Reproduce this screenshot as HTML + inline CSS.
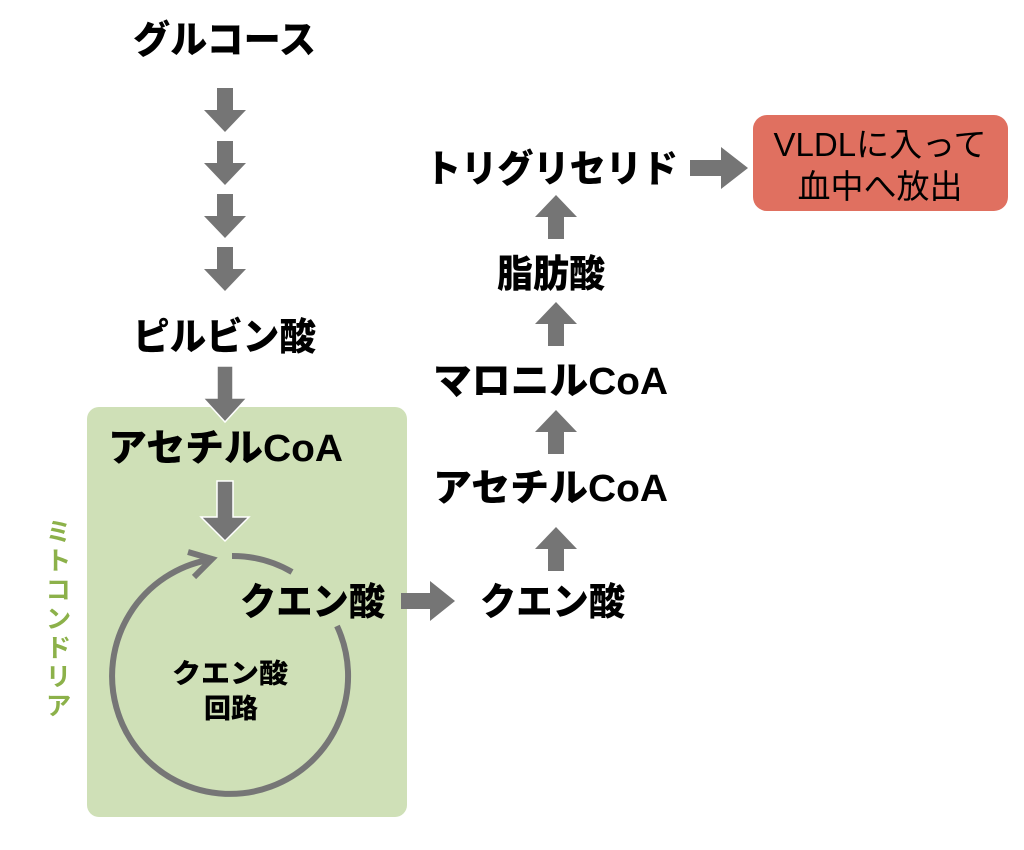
<!DOCTYPE html>
<html><head><meta charset="utf-8"><style>
body{margin:0;background:#fff}
svg text{font-family:"Liberation Sans","Noto Sans CJK JP",sans-serif;font-weight:900}
</style></head><body>
<svg width="1024" height="845" viewBox="0 0 1024 845" xmlns="http://www.w3.org/2000/svg">
<defs>
<path id="ad" d="M-8,0 H8 V22 H21 L0,44 L-21,22 H-8 Z" fill="#757575"/>
<path id="au" d="M-8,44 H8 V22 H21 L0,0 L-21,22 H-8 Z" fill="#757575"/>
</defs>
<rect x="87" y="407" width="320" height="410" rx="12" fill="#cfe0b7"/>
<text x="133" y="53" font-size="38" textLength="183" lengthAdjust="spacingAndGlyphs">グルコース</text>
<use href="#ad" x="225" y="88"/>
<use href="#ad" x="225" y="141"/>
<use href="#ad" x="225" y="194"/>
<use href="#ad" x="225" y="247"/>
<text x="133" y="350" font-size="38" textLength="183" lengthAdjust="spacingAndGlyphs">ピルビン酸</text>
<path d="M217,366 H233 V398 H247 L225,422 L203,398 H217 Z" fill="#757575" stroke="#fff" stroke-width="1.5"/>
<text x="108" y="461" font-size="38" textLength="235" lengthAdjust="spacingAndGlyphs">アセチルCoA</text>
<path d="M217,481 H233 V517 H249 L225,541 L201,517 H217 Z" fill="#757575" stroke="#fff" stroke-width="1.5"/>
<path d="M232,556 A118,118 0 0 1 292,572" fill="none" stroke="#767676" stroke-width="6"/>
<path d="M337,626 A118,118 0 1 1 208,560" fill="none" stroke="#767676" stroke-width="6"/>
<path d="M188,552 L212,559 L194,577" fill="none" stroke="#767676" stroke-width="6"/>
<text x="240" y="615" font-size="38" textLength="145" lengthAdjust="spacingAndGlyphs">クエン酸</text>
<text x="172" y="683" font-size="27" textLength="116" lengthAdjust="spacingAndGlyphs">クエン酸</text>
<text x="204" y="718" font-size="27" textLength="54" lengthAdjust="spacingAndGlyphs">回路</text>
<path d="M401,593 H430 V581 L455,601 L430,621 V609 H401 Z" fill="#757575"/>
<text x="480" y="615" font-size="38" textLength="145" lengthAdjust="spacingAndGlyphs">クエン酸</text>
<use href="#au" x="556" y="527"/>
<text x="433" y="501" font-size="38" textLength="235" lengthAdjust="spacingAndGlyphs">アセチルCoA</text>
<use href="#au" x="556" y="410"/>
<text x="433" y="394" font-size="38" textLength="235" lengthAdjust="spacingAndGlyphs">マロニルCoA</text>
<use href="#au" x="556" y="302"/>
<text x="497" y="287" font-size="38" textLength="108" lengthAdjust="spacingAndGlyphs">脂肪酸</text>
<use href="#au" x="556" y="195"/>
<text x="425" y="182" font-size="38" textLength="253" lengthAdjust="spacingAndGlyphs">トリグリセリド</text>
<path d="M690,160 H721 V147 L748,168 L721,189 V176 H690 Z" fill="#757575"/>
<rect x="753" y="115" width="255" height="96" rx="14" fill="#e07060"/>
<text x="880" y="156" font-size="33" style="font-weight:400" text-anchor="middle">VLDLに入って</text>
<text x="880" y="198" font-size="33" style="font-weight:400" text-anchor="middle">血中へ放出</text>
<text x="57" y="518" font-size="26" fill="#8cb14a" style="writing-mode:vertical-rl;font-weight:700;letter-spacing:3px">ミトコンドリア</text>
</svg>
</body></html>
